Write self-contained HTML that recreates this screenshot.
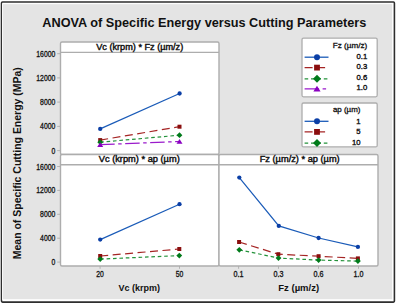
<!DOCTYPE html><html><head><meta charset="utf-8"><style>html,body{margin:0;padding:0;background:#fff;}svg{display:block}text{font-family:'Liberation Sans',sans-serif}</style></head><body>
<svg width="397" height="305" viewBox="0 0 397 305">
<rect x="0" y="0" width="397" height="305" fill="#ffffff"/>
<rect x="1.5" y="2.0" width="392.9" height="300.1" fill="none" stroke="#2e2e2e" stroke-width="1.6" rx="1"/>
<rect x="2.6" y="3.7" width="390.0" height="296.0" fill="#e4e4e4" stroke="#ffffff" stroke-width="0.9"/>
<text x="42.3" y="26.6" font-size="13.6" font-weight="bold" fill="#111" textLength="324" lengthAdjust="spacingAndGlyphs">ANOVA of Specific Energy versus Cutting Parameters</text>
<text transform="translate(20.5,259.2) rotate(-90)" x="0" y="0" font-size="11.8" font-weight="bold" fill="#111" textLength="192" lengthAdjust="spacingAndGlyphs">Mean of Specific Cutting Energy (MPa)</text>
<rect x="60.5" y="42" width="158.5" height="112.5" fill="#fff" stroke="#adadad" stroke-width="1.4" rx="1.5"/>
<line x1="60.5" y1="52.4" x2="219" y2="52.4" stroke="#adadad" stroke-width="1.4"/>
<text x="139.75" y="49.9" text-anchor="middle" font-size="8.2" fill="#111" stroke="#111" stroke-width="0.4" textLength="87" lengthAdjust="spacingAndGlyphs">Vc (krpm) * Fz (µm/z)</text>
<rect x="60.5" y="154.5" width="158.5" height="111.5" fill="#fff" stroke="#adadad" stroke-width="1.4" rx="1.5"/>
<line x1="60.5" y1="164.8" x2="219" y2="164.8" stroke="#adadad" stroke-width="1.4"/>
<text x="139.25" y="162.3" text-anchor="middle" font-size="8.2" fill="#111" stroke="#111" stroke-width="0.4" textLength="81" lengthAdjust="spacingAndGlyphs">Vc (krpm) * ap (µm)</text>
<rect x="219" y="154.5" width="159" height="111.5" fill="#fff" stroke="#adadad" stroke-width="1.4" rx="1.5"/>
<line x1="219" y1="164.8" x2="378" y2="164.8" stroke="#adadad" stroke-width="1.4"/>
<text x="299.7" y="162.3" text-anchor="middle" font-size="8.2" fill="#111" stroke="#111" stroke-width="0.4" textLength="80" lengthAdjust="spacingAndGlyphs">Fz (µm/z) * ap (µm)</text>
<line x1="57.2" y1="53.7" x2="60.5" y2="53.7" stroke="#adadad" stroke-width="0.9"/>
<text x="55.3" y="56.7" text-anchor="end" font-size="8.4" fill="#111" stroke="#111" stroke-width="0.3" textLength="19.0" lengthAdjust="spacingAndGlyphs">16000</text>
<line x1="57.2" y1="77.9" x2="60.5" y2="77.9" stroke="#adadad" stroke-width="0.9"/>
<text x="55.3" y="80.9" text-anchor="end" font-size="8.4" fill="#111" stroke="#111" stroke-width="0.3" textLength="19.0" lengthAdjust="spacingAndGlyphs">12000</text>
<line x1="57.2" y1="102.1" x2="60.5" y2="102.1" stroke="#adadad" stroke-width="0.9"/>
<text x="55.3" y="105.1" text-anchor="end" font-size="8.4" fill="#111" stroke="#111" stroke-width="0.3" textLength="15.2" lengthAdjust="spacingAndGlyphs">8000</text>
<line x1="57.2" y1="126.4" x2="60.5" y2="126.4" stroke="#adadad" stroke-width="0.9"/>
<text x="55.3" y="129.4" text-anchor="end" font-size="8.4" fill="#111" stroke="#111" stroke-width="0.3" textLength="15.2" lengthAdjust="spacingAndGlyphs">4000</text>
<line x1="57.2" y1="150.6" x2="60.5" y2="150.6" stroke="#adadad" stroke-width="0.9"/>
<text x="55.3" y="153.6" text-anchor="end" font-size="8.4" fill="#111" stroke="#111" stroke-width="0.3" textLength="3.8" lengthAdjust="spacingAndGlyphs">0</text>
<line x1="57.2" y1="166.5" x2="60.5" y2="166.5" stroke="#adadad" stroke-width="0.9"/>
<text x="55.3" y="169.5" text-anchor="end" font-size="8.4" fill="#111" stroke="#111" stroke-width="0.3" textLength="19.0" lengthAdjust="spacingAndGlyphs">16000</text>
<line x1="57.2" y1="190.4" x2="60.5" y2="190.4" stroke="#adadad" stroke-width="0.9"/>
<text x="55.3" y="193.4" text-anchor="end" font-size="8.4" fill="#111" stroke="#111" stroke-width="0.3" textLength="19.0" lengthAdjust="spacingAndGlyphs">12000</text>
<line x1="57.2" y1="214.3" x2="60.5" y2="214.3" stroke="#adadad" stroke-width="0.9"/>
<text x="55.3" y="217.3" text-anchor="end" font-size="8.4" fill="#111" stroke="#111" stroke-width="0.3" textLength="15.2" lengthAdjust="spacingAndGlyphs">8000</text>
<line x1="57.2" y1="238.2" x2="60.5" y2="238.2" stroke="#adadad" stroke-width="0.9"/>
<text x="55.3" y="241.2" text-anchor="end" font-size="8.4" fill="#111" stroke="#111" stroke-width="0.3" textLength="15.2" lengthAdjust="spacingAndGlyphs">4000</text>
<line x1="57.2" y1="262.1" x2="60.5" y2="262.1" stroke="#adadad" stroke-width="0.9"/>
<text x="55.3" y="265.1" text-anchor="end" font-size="8.4" fill="#111" stroke="#111" stroke-width="0.3" textLength="3.8" lengthAdjust="spacingAndGlyphs">0</text>
<line x1="100.1" y1="266" x2="100.1" y2="268.8" stroke="#adadad" stroke-width="0.9"/>
<text x="100.1" y="276.9" text-anchor="middle" font-size="8.4" fill="#111" stroke="#111" stroke-width="0.3" textLength="7.6" lengthAdjust="spacingAndGlyphs">20</text>
<line x1="179.5" y1="266" x2="179.5" y2="268.8" stroke="#adadad" stroke-width="0.9"/>
<text x="179.5" y="276.9" text-anchor="middle" font-size="8.4" fill="#111" stroke="#111" stroke-width="0.3" textLength="7.6" lengthAdjust="spacingAndGlyphs">50</text>
<line x1="238.6" y1="266" x2="238.6" y2="268.8" stroke="#adadad" stroke-width="0.9"/>
<text x="238.6" y="276.9" text-anchor="middle" font-size="8.4" fill="#111" stroke="#111" stroke-width="0.3" textLength="10" lengthAdjust="spacingAndGlyphs">0.1</text>
<line x1="278.5" y1="266" x2="278.5" y2="268.8" stroke="#adadad" stroke-width="0.9"/>
<text x="278.5" y="276.9" text-anchor="middle" font-size="8.4" fill="#111" stroke="#111" stroke-width="0.3" textLength="10" lengthAdjust="spacingAndGlyphs">0.3</text>
<line x1="318.5" y1="266" x2="318.5" y2="268.8" stroke="#adadad" stroke-width="0.9"/>
<text x="318.5" y="276.9" text-anchor="middle" font-size="8.4" fill="#111" stroke="#111" stroke-width="0.3" textLength="10" lengthAdjust="spacingAndGlyphs">0.6</text>
<line x1="358.5" y1="266" x2="358.5" y2="268.8" stroke="#adadad" stroke-width="0.9"/>
<text x="358.5" y="276.9" text-anchor="middle" font-size="8.4" fill="#111" stroke="#111" stroke-width="0.3" textLength="10" lengthAdjust="spacingAndGlyphs">1.0</text>
<text x="139.3" y="290.9" text-anchor="middle" font-size="9" font-weight="bold" fill="#111" textLength="41.6" lengthAdjust="spacingAndGlyphs">Vc (krpm)</text>
<text x="298.7" y="290.9" text-anchor="middle" font-size="9" font-weight="bold" fill="#111" textLength="40.8" lengthAdjust="spacingAndGlyphs">Fz (µm/z)</text>
<path d="M100.2 128.9 L179.6 93.5" fill="none" stroke="#1a5bb8" stroke-width="1.2"/>
<circle cx="100.2" cy="128.9" r="2.15" fill="#0b3fa6"/>
<circle cx="179.6" cy="93.5" r="2.15" fill="#0b3fa6"/>
<path d="M100.2 140.1 L179.5 126.7" fill="none" stroke="#a52424" stroke-width="1.2" stroke-dasharray="8 4.5"/>
<rect x="98.2" y="138.1" width="4.0" height="4.0" fill="#8a0e0e"/>
<rect x="177.5" y="124.7" width="4.0" height="4.0" fill="#8a0e0e"/>
<path d="M100.2 142.2 L179.5 135.2" fill="none" stroke="#23923a" stroke-width="1.2" stroke-dasharray="3.6 2.8"/>
<path d="M100.2 139.29999999999998 L103.10000000000001 142.2 L100.2 145.1 L97.3 142.2 Z" fill="#007a1a"/>
<path d="M179.5 132.29999999999998 L182.4 135.2 L179.5 138.1 L176.6 135.2 Z" fill="#007a1a"/>
<path d="M100.2 144.7 L179.5 141.5" fill="none" stroke="#9a1acb" stroke-width="1.2" stroke-dasharray="14.5 3.5 3.5 3.5"/>
<path d="M100.2 142.14999999999998 L103.2 146.95 L97.2 146.95 Z" fill="#8a00c0"/>
<path d="M179.5 138.95 L182.5 143.75 L176.5 143.75 Z" fill="#8a00c0"/>
<path d="M100.2 239.6 L179.5 204.2" fill="none" stroke="#1a5bb8" stroke-width="1.2"/>
<circle cx="100.2" cy="239.6" r="2.15" fill="#0b3fa6"/>
<circle cx="179.5" cy="204.2" r="2.15" fill="#0b3fa6"/>
<path d="M100.2 256.0 L179.3 249.0" fill="none" stroke="#a52424" stroke-width="1.2" stroke-dasharray="8 4.5"/>
<rect x="98.2" y="254.0" width="4.0" height="4.0" fill="#8a0e0e"/>
<rect x="177.3" y="247.0" width="4.0" height="4.0" fill="#8a0e0e"/>
<path d="M100.2 259.1 L179.3 255.6" fill="none" stroke="#23923a" stroke-width="1.2" stroke-dasharray="3.6 2.8"/>
<path d="M100.2 256.20000000000005 L103.10000000000001 259.1 L100.2 262.0 L97.3 259.1 Z" fill="#007a1a"/>
<path d="M179.3 252.7 L182.20000000000002 255.6 L179.3 258.5 L176.4 255.6 Z" fill="#007a1a"/>
<path d="M239.3 177.6 L278.8 225.9 L318.6 238.0 L357.9 246.9" fill="none" stroke="#1a5bb8" stroke-width="1.2"/>
<circle cx="239.3" cy="177.6" r="2.15" fill="#0b3fa6"/>
<circle cx="278.8" cy="225.9" r="2.15" fill="#0b3fa6"/>
<circle cx="318.6" cy="238.0" r="2.15" fill="#0b3fa6"/>
<circle cx="357.9" cy="246.9" r="2.15" fill="#0b3fa6"/>
<path d="M239.1 242.0 L278.3 254.2 L318.6 256.2 L357.9 258.4" fill="none" stroke="#a52424" stroke-width="1.2" stroke-dasharray="8 4.5"/>
<rect x="237.1" y="240.0" width="4.0" height="4.0" fill="#8a0e0e"/>
<rect x="276.3" y="252.2" width="4.0" height="4.0" fill="#8a0e0e"/>
<rect x="316.6" y="254.2" width="4.0" height="4.0" fill="#8a0e0e"/>
<rect x="355.9" y="256.4" width="4.0" height="4.0" fill="#8a0e0e"/>
<path d="M239.3 249.8 L278.5 258.1 L318.6 260.1 L357.9 261.1" fill="none" stroke="#23923a" stroke-width="1.2" stroke-dasharray="3.6 2.8"/>
<path d="M239.3 246.9 L242.20000000000002 249.8 L239.3 252.70000000000002 L236.4 249.8 Z" fill="#007a1a"/>
<path d="M278.5 255.20000000000002 L281.4 258.1 L278.5 261.0 L275.6 258.1 Z" fill="#007a1a"/>
<path d="M318.6 257.20000000000005 L321.5 260.1 L318.6 263.0 L315.70000000000005 260.1 Z" fill="#007a1a"/>
<path d="M357.9 258.20000000000005 L360.79999999999995 261.1 L357.9 264.0 L355.0 261.1 Z" fill="#007a1a"/>
<rect x="302" y="38.2" width="75.2" height="58.599999999999994" fill="#fff" stroke="#adadad" stroke-width="1.3" rx="1.5"/>
<text x="367.2" y="48.0" text-anchor="end" font-size="7.7" fill="#111" stroke="#111" stroke-width="0.3" textLength="34.4" lengthAdjust="spacingAndGlyphs">Fz (µm/z)</text>
<line x1="304.6" y1="57.2" x2="328.5" y2="57.2" stroke="#1a5bb8" stroke-width="1.3"/>
<circle cx="317" cy="57.2" r="3.0" fill="#0b3fa6"/>
<text x="367.2" y="59.2" text-anchor="end" font-size="7.7" fill="#111" stroke="#111" stroke-width="0.35">0.1</text>
<line x1="304.6" y1="67.6" x2="328.5" y2="67.6" stroke="#a52424" stroke-width="1.3" stroke-dasharray="8 4.5"/>
<rect x="314.1" y="64.69999999999999" width="5.8" height="5.8" fill="#8a0e0e"/>
<text x="367.2" y="69.3" text-anchor="end" font-size="7.7" fill="#111" stroke="#111" stroke-width="0.35">0.3</text>
<line x1="304.6" y1="78.8" x2="328.5" y2="78.8" stroke="#23923a" stroke-width="1.3" stroke-dasharray="3.6 2.8"/>
<path d="M317 74.8 L321.0 78.8 L317 82.8 L313.0 78.8 Z" fill="#007a1a"/>
<text x="367.2" y="80.19999999999999" text-anchor="end" font-size="7.7" fill="#111" stroke="#111" stroke-width="0.35">0.6</text>
<line x1="304.6" y1="88.8" x2="328.5" y2="88.8" stroke="#9a1acb" stroke-width="1.3" stroke-dasharray="14.5 3.5 3.5 3.5"/>
<path d="M317 85.74 L320.6 91.5 L313.4 91.5 Z" fill="#8a00c0"/>
<text x="367.2" y="90.3" text-anchor="end" font-size="7.7" fill="#111" stroke="#111" stroke-width="0.35">1.0</text>
<rect x="302" y="103" width="75.2" height="43.900000000000006" fill="#fff" stroke="#adadad" stroke-width="1.3" rx="1.5"/>
<text x="360.5" y="111.69999999999999" text-anchor="end" font-size="7.7" fill="#111" stroke="#111" stroke-width="0.3" textLength="27.6" lengthAdjust="spacingAndGlyphs">ap (µm)</text>
<line x1="304.6" y1="121.3" x2="328.5" y2="121.3" stroke="#1a5bb8" stroke-width="1.3"/>
<circle cx="317" cy="121.3" r="3.0" fill="#0b3fa6"/>
<text x="360.5" y="123.6" text-anchor="end" font-size="7.7" fill="#111" stroke="#111" stroke-width="0.35">1</text>
<line x1="304.6" y1="131.9" x2="328.5" y2="131.9" stroke="#a52424" stroke-width="1.3" stroke-dasharray="8 4.5"/>
<rect x="314.1" y="129.0" width="5.8" height="5.8" fill="#8a0e0e"/>
<text x="360.5" y="134.2" text-anchor="end" font-size="7.7" fill="#111" stroke="#111" stroke-width="0.35">5</text>
<line x1="304.6" y1="143.1" x2="328.5" y2="143.1" stroke="#23923a" stroke-width="1.3" stroke-dasharray="3.6 2.8"/>
<path d="M317 139.1 L321.0 143.1 L317 147.1 L313.0 143.1 Z" fill="#007a1a"/>
<text x="360.5" y="145.2" text-anchor="end" font-size="7.7" fill="#111" stroke="#111" stroke-width="0.35">10</text>
</svg></body></html>
